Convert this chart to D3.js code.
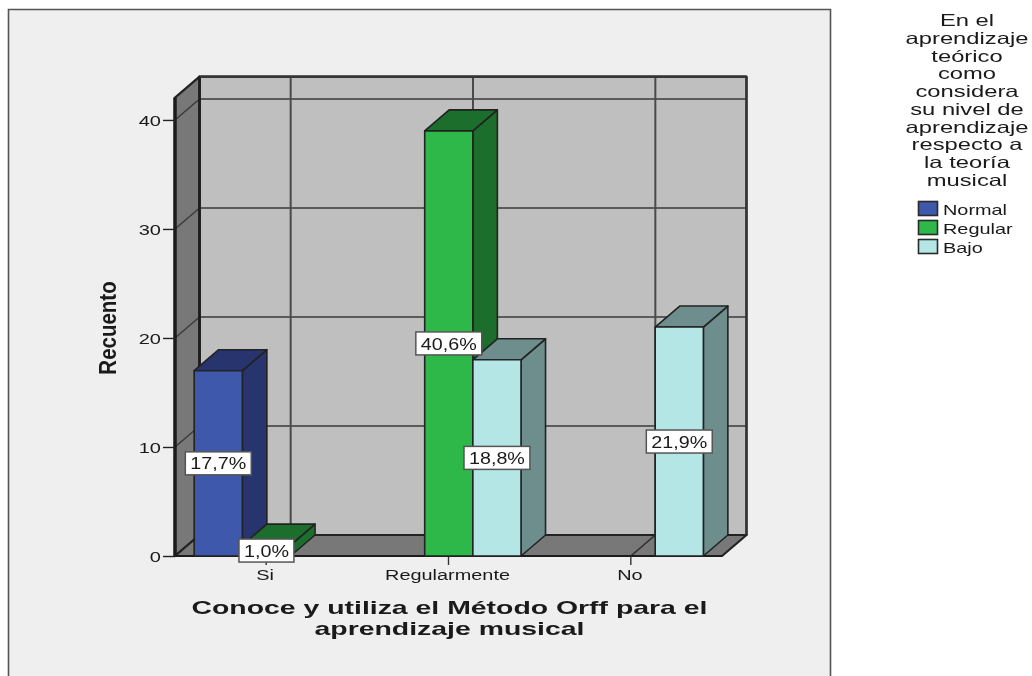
<!DOCTYPE html>
<html><head><meta charset="utf-8">
<script src="https://cdnjs.cloudflare.com/ajax/libs/d3/7.8.5/d3.min.js"></script>
<style>html,body{margin:0;padding:0;background:#fff}svg{display:block;filter:blur(0.35px)}text{font-family:"Liberation Sans",Arial,sans-serif;fill:#1a1a1a}</style>
</head><body><svg id="c" width="1032" height="676"></svg>
<script>
const categories = ["Si","Regularmente","No"];
const seriesNames = ["Normal","Regular","Bajo"];
const seriesColors = ["#3e58ac","#2eb84a","#b4e6e6"];
const seriesDark = ["#27346e","#1c6e2d","#6e8e8e"];
const normalValues = [17,0,0];
const regularValues = [1,39,0];
const bajoValues = [0,18,21];
const normalLabels = ["17,7%","",""];
const regularLabels = ["1,0%","40,6%",""];
const bajoLabels = ["","18,8%","21,9%"];
const yTicks = [0,10,20,30,40];
const yTitle = "Recuento";
const xTitleLines = ["Conoce y utiliza el Método Orff para el","aprendizaje musical"];
const legendTitleLines = ["En el","aprendizaje","teórico","como","considera","su nivel de","aprendizaje","respecto a","la teoría","musical"];

const svg = d3.select("#c");
const dx = 24.5, dy = -21;
const x = d3.scaleBand().domain(categories).range([175,722]);
const xs = d3.scaleBand().domain(seriesNames).range([19.2,163.7]);
const y = d3.scaleLinear().domain([0,42.05]).range([556,97.6]);
const x0=x.range()[0], x1=x.range()[1], y0=y(0), yT=y.range()[1];
const line = "#222";
const poly=(pts,fill,sw=1.6,stroke=line)=>svg.append("polygon").attr("points",pts.map(p=>p.join(",")).join(" ")).attr("fill",fill).attr("stroke",stroke).attr("stroke-width",sw).attr("stroke-linejoin","round");
const seg=(a,b,w=1.4,c="#3a3a3a")=>svg.append("line").attr("x1",a[0]).attr("y1",a[1]).attr("x2",b[0]).attr("y2",b[1]).attr("stroke",c).attr("stroke-width",w);

// panel
svg.append("path").attr("d","M8.5,676V9.5H830.5V676").attr("fill","#efefef").attr("stroke","#555").attr("stroke-width",1.6);

// walls
poly([[x0+dx,yT+dy],[x1+dx,yT+dy],[x1+dx,y0+dy],[x0+dx,y0+dy]],"#bfbfbf",2.2);
poly([[x0,yT],[x0+dx,yT+dy],[x0+dx,y0+dy],[x0,y0]],"#787878",2.2);
poly([[x0,y0],[x0+dx,y0+dy],[x1+dx,y0+dy],[x1,y0]],"#787878",2.2);

// grid
yTicks.slice(1).forEach(t=>{
  seg([x0+dx,y(t)+dy],[x1+dx,y(t)+dy]);
  seg([x0,y(t)],[x0+dx,y(t)+dy]);
});
categories.forEach(c=>{
  const m=x(c)+x.bandwidth()/2;
  seg([m+dx,yT+dy],[m+dx,y0+dy],2,"#4a4a4a");
  seg([m,y0],[m+dx,y0+dy],1.4,"#2a2a2a");
});
seg([x0,yT],[x0,y0],3.5,"#1c1c1c");
seg([x0+dx,yT+dy],[x0+dx,y0+dy],2.6,"#1c1c1c");
seg([x1+dx,yT+dy],[x1+dx,y0+dy],2.2,"#333");
seg([x0+dx,yT+dy],[x1+dx,yT+dy],2.2,"#333");

// axes
const stretch=(sel,f)=>sel.each(function(){const w=this.getComputedTextLength();d3.select(this).attr("textLength",w*f).attr("lengthAdjust","spacingAndGlyphs");});
const ya=svg.append("g").attr("transform",`translate(${x0},0)`).call(d3.axisLeft(y).tickValues(yTicks).tickSize(12).tickPadding(2));
ya.select(".domain").remove();
ya.selectAll("line").attr("stroke","#222").attr("stroke-width",1.4);
ya.selectAll("text").attr("font-size",14.5).attr("dy","0.36em").style("font-family","Liberation Sans");
stretch(ya.selectAll("text"),1.38);
const xa=svg.append("g").attr("transform",`translate(0,${y0})`).call(d3.axisBottom(x).tickSize(9).tickPadding(5));
xa.select(".domain").attr("stroke","#1c1c1c").attr("stroke-width",2).attr("d",`M${x0},0H${x1}`);
xa.selectAll("line").attr("stroke","#333").attr("stroke-width",1.4);
xa.selectAll("text").attr("font-size",14).attr("dx",-1).style("font-family","Liberation Sans");
stretch(xa.selectAll("text"),1.42);

// bars
const rows=[normalValues,regularValues,bajoValues];
const labs=[normalLabels,regularLabels,bajoLabels];
const labelData=[];
categories.forEach((c,ci)=>{
  seriesNames.forEach((s,si)=>{
    const v=rows[si][ci]; if(!v) return;
    const l=x(c)+xs(s), r=l+xs.bandwidth(), t=y(v);
    poly([[r,t],[r+dx,t+dy],[r+dx,y0+dy],[r,y0]],seriesDark[si]);
    poly([[l,t],[l+dx,t+dy],[r+dx,t+dy],[r,t]],seriesDark[si]);
    poly([[l,t],[r,t],[r,y0],[l,y0]],seriesColors[si]);
    labelData.push({cx:(l+r)/2,cy:(t+y0)/2,text:labs[si][ci]});
  });
});

// value labels
labelData.forEach(d=>{
  const g=svg.append("g");
  const t=g.append("text").attr("x",d.cx).attr("y",d.cy).attr("dy","0.36em").attr("text-anchor","middle").attr("font-size",17).text(d.text);
  stretch(t,1.16);
  const w=+t.attr("textLength")+10,h=23;
  g.insert("rect","text").attr("x",d.cx-w/2).attr("y",d.cy-h/2).attr("width",w).attr("height",h).attr("fill","#fff").attr("stroke","#555").attr("stroke-width",1.5);
});

// titles
const yt=svg.append("text").attr("transform",`translate(116,${(281+375)/2}) rotate(-90)`).attr("text-anchor","middle").attr("font-weight","bold").attr("font-size",23).text(yTitle);
stretch(yt,0.89);
xTitleLines.forEach((s,i)=>{
  const t=svg.append("text").attr("x",449.5).attr("y",613.5+i*21).attr("text-anchor","middle").attr("font-weight","bold").attr("font-size",18.5).text(s);
  stretch(t,1.535);
});

// legend
legendTitleLines.forEach((s,i)=>{
  const t=svg.append("text").attr("x",967).attr("y",26+i*17.75).attr("text-anchor","middle").attr("font-size",16.5).text(s);
  stretch(t,1.44);
});
const ly=d3.scaleBand().domain(seriesNames).range([200,257]);
seriesNames.forEach((s,i)=>{
  svg.append("rect").attr("x",918.5).attr("y",ly(s)+1.5).attr("width",19).attr("height",14).attr("fill",seriesColors[i]).attr("stroke","#2a2a2a").attr("stroke-width",1.6);
  const t=svg.append("text").attr("x",943).attr("y",ly(s)+14.5).attr("font-size",14.5).text(s);
  stretch(t,1.37);
});
</script></body></html>
